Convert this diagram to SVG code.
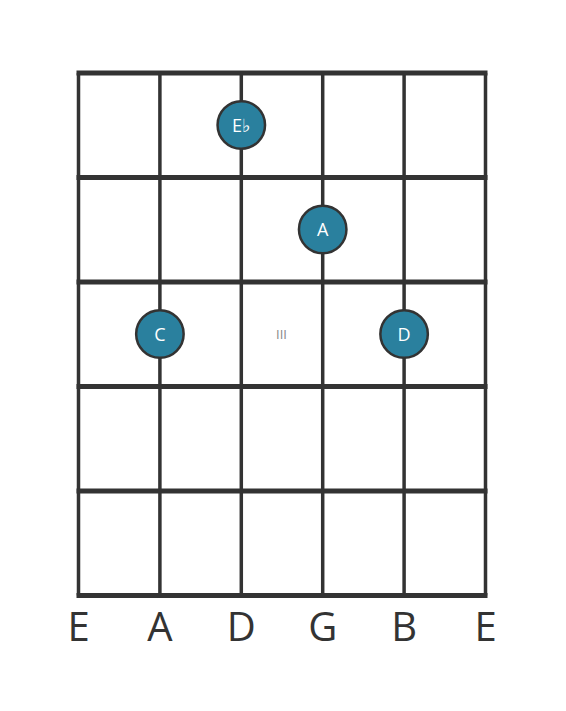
<svg xmlns="http://www.w3.org/2000/svg" width="566" height="711" viewBox="0 0 566 711">
<style>
.string{stroke:#333;stroke-width:3.5;fill:none}
.fret{stroke:#333;stroke-width:5;fill:none}
.dot circle{fill:#2a809e;stroke:#333;stroke-width:2.5}
.dot text{fill:#fff;font-family:"Open Sans","Noto Sans","DejaVu Sans",sans-serif;font-size:18px;text-anchor:middle}
.lbl{fill:#333;font-family:"Open Sans","Noto Sans","DejaVu Sans",sans-serif;font-size:40px;text-anchor:middle}
.pos{fill:#888;font-family:"Open Sans","Noto Sans","DejaVu Sans",sans-serif;font-size:13px;text-anchor:middle}
</style>
<rect width="566" height="711" fill="#fff"/>
<g id="connectors">
<line class="string" x1="78.5" y1="73" x2="78.5" y2="595.5"/>
<line class="string" x1="159.9" y1="73" x2="159.9" y2="595.5"/>
<line class="string" x1="241.3" y1="73" x2="241.3" y2="595.5"/>
<line class="string" x1="322.7" y1="73" x2="322.7" y2="595.5"/>
<line class="string" x1="404.1" y1="73" x2="404.1" y2="595.5"/>
<line class="string" x1="485.5" y1="73" x2="485.5" y2="595.5"/>
<line class="fret" x1="76.5" y1="73" x2="487.5" y2="73"/>
<line class="fret" x1="76.5" y1="177.5" x2="487.5" y2="177.5"/>
<line class="fret" x1="76.5" y1="282" x2="487.5" y2="282"/>
<line class="fret" x1="76.5" y1="386.5" x2="487.5" y2="386.5"/>
<line class="fret" x1="76.5" y1="491" x2="487.5" y2="491"/>
<line class="fret" x1="76.5" y1="595.5" x2="487.5" y2="595.5"/>
</g>
<text class="pos" x="281.5" y="339">III</text>
<g id="dot-eb" class="dot"><circle cx="241.3" cy="125" r="23.75"/><text x="241.3" y="131.5">E♭</text></g>
<g id="dot-a" class="dot"><circle cx="322.7" cy="229.5" r="23.75"/><text x="322.7" y="236">A</text></g>
<g id="dot-c" class="dot"><circle cx="159.9" cy="334" r="23.75"/><text x="159.9" y="340.5">C</text></g>
<g id="dot-d" class="dot"><circle cx="404.1" cy="334" r="23.75"/><text x="404.1" y="340.5">D</text></g>
<g id="labels">
<text class="lbl" x="78.5" y="640.5">E</text>
<text class="lbl" x="159.9" y="640.5">A</text>
<text class="lbl" x="241.3" y="640.5">D</text>
<text class="lbl" x="322.7" y="640.5">G</text>
<text class="lbl" x="404.1" y="640.5">B</text>
<text class="lbl" x="485.5" y="640.5">E</text>
</g>
</svg>
